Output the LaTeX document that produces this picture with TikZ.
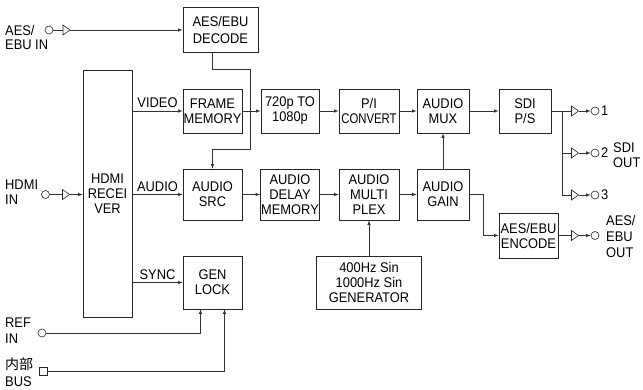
\documentclass[tikz,border=0pt]{standalone}
\usepackage{fontspec}
\setmainfont{Liberation Sans}[FakeStretch=0.92]
\newfontfamily\jpfont{Noto Sans CJK JP}

\begin{document}
\begin{tikzpicture}[
    x=1pt, y=-1pt,
    font=\fontsize{14}{15}\selectfont,
    blk/.style={rectangle, draw=black!85, line width=0.6pt, inner sep=0pt, align=center, minimum width=59pt, minimum height=44pt},
    port/.style={circle, draw=black!85, line width=0.6pt, inner sep=0pt, minimum size=8pt},
    sqport/.style={rectangle, draw=black!85, line width=0.6pt, inner sep=0pt, minimum size=8pt},
    buf/.pic={
      \draw[black!85, line width=0.6pt] (-3.5,-5) -- (3.5,0) -- (-3.5,5) -- cycle;
      \coordinate (-in) at (-3.5,0);
      \coordinate (-out) at (3.5,0);
    },
    lbl/.style={inner sep=0pt, align=left},
    wire/.style={draw=black!80, line width=0.6pt},
    arrow/.style={->, >=latex, draw=black!80, line width=0.6pt}
  ]
  \useasboundingbox (0,0) rectangle (643,390);

  % Define blocks
  \node[blk, minimum width=75pt, minimum height=45pt, font=\fontsize{14}{17}\selectfont] (dec) at (220.5,30) {AES/EBU\\DECODE};
  \node[blk, minimum width=49pt, minimum height=247pt] (rx) at (107.5,193.5) {HDMI\\RECEI\\VER};
  \node[blk] (fm) at (212.5,111) {FRAME\\MEMORY};
  \node[blk, right of=fm, node distance=77.5pt, minimum width=58pt] (conv) {720p TO\\1080p};
  \node[blk, right of=conv, node distance=79pt, minimum width=60pt] (pi) {P/I\\\scalebox{0.88}[1]{CONVERT}};
  \node[blk, right of=pi, node distance=74pt, minimum width=52pt] (mux) {AUDIO\\MUX};
  \node[blk, right of=mux, node distance=82pt, minimum width=52pt] (sdi) {SDI\\P/S};

  \node[blk, below of=fm, node distance=83.5pt, minimum height=51pt] (src) {AUDIO\\SRC};
  \node[blk, below of=conv, node distance=83.5pt, minimum height=51pt] (dly) {AUDIO\\DELAY\\MEMORY};
  \node[blk, below of=pi, node distance=83.5pt, minimum width=60pt, minimum height=51pt] (mpx) {AUDIO\\MULTI\\PLEX};
  \node[blk, below of=mux, node distance=83.5pt, minimum width=52pt, minimum height=51pt] (gain) {AUDIO\\GAIN};
  \node[blk, minimum height=45pt] (enc) at (528.5,235.5) {AES/EBU\\ENCODE};

  \node[blk, below of=src, node distance=88pt, minimum height=53pt] (lock) {GEN\\LOCK};
  \node[blk, below of=mpx, node distance=88pt, minimum width=105pt, minimum height=53pt] (gen) {400Hz Sin\\1000Hz Sin\\GENERATOR};

  % Inputs
  \node[port] (aesport) at (49,30) {};
  \pic (aesbuf) at (66.5,30) {buf};
  \node[lbl, anchor=west, font=\fontsize{14}{14}\selectfont] (aeslbl) at (5,37) {AES/\\EBU IN};
  \node[port] (hdport) at (45.5,194.5) {};
  \pic (hdbuf) at (66,194.5) {buf};
  \node[lbl, anchor=west] (hdlbl) at (5,192.5) {HDMI\\IN};
  \node[port] (refport) at (42,333) {};
  \node[lbl, anchor=west, font=\fontsize{14}{16}\selectfont] (reflbl) at (5,331) {REF\\IN};
  \node[sqport] (busport) at (43,371) {};
  \node[lbl, anchor=west, font=\fontsize{14}{17}\selectfont] (buslbl) at (5,372) {{\jpfont 内部}\\BUS};

  % Outputs
  \foreach \n/\y in {1/111, 2/153, 3/195} {
    \pic (obuf\n) at (575,\y) {buf};
    \node[port] (oport\n) at (595,\y) {};
    \node[lbl, anchor=west] (onum\n) at (601,\y) {\n};
  }
  \node[lbl, anchor=west] (sdilbl) at (613,155.5) {SDI\\OUT};
  \pic (ebuf) at (575,235.5) {buf};
  \node[port] (eport) at (595,235.5) {};
  \node[lbl, anchor=west, font=\fontsize{14}{16}\selectfont] (ebulbl) at (606,236) {AES/\\EBU\\OUT};

  % Draw arrows
  \draw[wire] (aesport) -- (aesbuf-in);
  \draw[arrow] (aesbuf-out) -- (dec.west);
  \draw[wire] (hdport) -- (hdbuf-in);
  \draw[arrow] (hdbuf-out) -- (rx.west |- hdbuf-out);

  \draw[arrow] (src.north |- dec.south) -- ++(0,17) -| (250,149) -| (src.north);

  \draw[arrow] (rx.east |- fm.west) -- node[above, inner sep=3pt] {VIDEO} (fm.west);
  \draw[arrow] (fm) -- (conv);
  \draw[arrow] (conv) -- (pi);
  \draw[arrow] (pi) -- (mux);
  \draw[arrow] (mux) -- (sdi);

  \draw[arrow] (rx.east |- src.west) -- node[above, inner sep=3pt] {AUDIO} (src.west);
  \draw[arrow] (src) -- (dly);
  \draw[arrow] (dly) -- (mpx);
  \draw[arrow] (mpx) -- (gain);
  \draw[arrow] (gain) -- (mux);
  \draw[arrow] (gen) -- (mpx);
  \draw[arrow] (gain.east) -- ++(14,0) |- (enc.west);

  \draw[arrow] (rx.east |- lock.west) -- node[above, inner sep=3pt] {SYNC} (lock.west);
  \draw[arrow] (refport.east) -| ([xshift=-12pt]lock.south);
  \draw[arrow] (busport.east) -| ([xshift=12pt]lock.south);

  % SDI and AES/EBU outputs
  \draw[wire] (sdi.east) -- (obuf1-in);
  \draw[wire] (sdi.east) -- ++(11,0) |- (obuf2-in);
  \draw[wire] (sdi.east) -- ++(11,0) |- (obuf3-in);
  \foreach \n in {1,2,3}
    \draw[arrow] (obuf\n-out) -- (oport\n.west);
  \draw[wire] (enc.east) -- (ebuf-in);
  \draw[arrow] (ebuf-out) -- (eport.west);
\end{tikzpicture}
\end{document}
